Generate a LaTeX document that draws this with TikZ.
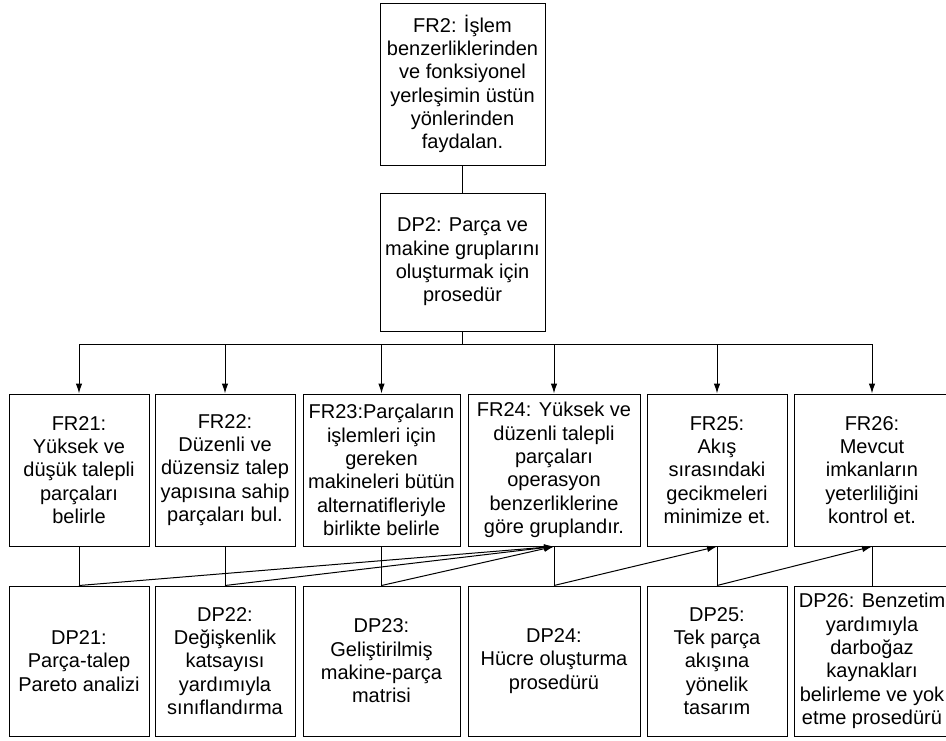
\documentclass[tikz,border=0pt]{standalone}
\usepackage{fontspec}
\setmainfont{Liberation Sans}
\usetikzlibrary{arrows.meta}

\begin{document}
\begin{tikzpicture}[x=1pt,y=-1pt,
	box/.style={draw,line width=1pt,align=center,inner sep=2pt,
		font=\fontsize{20}{23.3}\selectfont},
	frbox/.style={box,minimum width=#1,minimum height=152pt},
	dpbox/.style={box,minimum width=#1,minimum height=150pt},
	link/.style={line width=1pt},
	arrow/.style={line width=1pt,-{Latex[length=10pt,width=6.5pt]}},
]
\useasboundingbox (0,0) rectangle (946,740);

%Top level
\node [box,minimum width=165pt,minimum height=162pt] (FR2) at (462.5,84)
	{FR2: İşlem\\benzerliklerinden\\ve fonksiyonel\\yerleşimin üstün\\yönlerinden\\faydalan.};
\node [box,minimum width=165pt,minimum height=138pt] (DP2) at (462.5,262)
	{DP2: Parça ve\\makine gruplarını\\oluşturmak için\\prosedür};
\draw[link] (FR2.south) -- (DP2.north);

%FR row
\node [frbox=140pt] (FR21) at (79,470)
	{FR21:\\Yüksek ve\\düşük talepli\\parçaları\\belirle};
\node [frbox=140pt] (FR22) at (225,470)
	{FR22:\\Düzenli ve\\düzensiz talep\\yapısına sahip\\parçaları bul.};
\node [frbox=157pt] (FR23) at (381.5,470)
	{FR23:Parçaların\\işlemleri için\\gereken\\makineleri bütün\\alternatifleriyle\\birlikte belirle};
\node [frbox=172pt] (FR24) at (554,470)
	{FR24: Yüksek ve\\düzenli talepli\\parçaları\\operasyon\\benzerliklerine\\göre gruplandır.};
\node [frbox=140pt] (FR25) at (717,470)
	{FR25:\\Akış\\sırasındaki\\gecikmeleri\\minimize et.};
\node [frbox=156pt] (FR26) at (872,470)
	{FR26:\\Mevcut\\imkanların\\yeterliliğini\\kontrol et.};

%DP row
\node [dpbox=140pt] (DP21) at (79,661)
	{DP21:\\Parça-talep\\Pareto analizi};
\node [dpbox=140pt] (DP22) at (225,661)
	{DP22:\\Değişkenlik\\katsayısı\\yardımıyla\\sınıflandırma};
\node [dpbox=157pt] (DP23) at (381.5,661)
	{DP23:\\Geliştirilmiş\\makine-parça\\matrisi};
\node [dpbox=172pt] (DP24) at (554,661)
	{DP24:\\Hücre oluşturma\\prosedürü};
\node [dpbox=140pt] (DP25) at (717,661)
	{DP25:\\Tek parça\\akışına\\yönelik\\tasarım};
\node [dpbox=156pt] (DP26) at (872,661)
	{DP26: Benzetim\\yardımıyla\\darboğaz\\kaynakları\\belirleme ve yok\\etme prosedürü};

%Bus from DP2
\coordinate (bus) at (462.5,344);
\draw[link] (DP2.south) -- (bus);
\draw[link] (FR21.north |- bus) -- (FR26.north |- bus);
\foreach \n in {21,...,26}
	\draw[arrow] (FR\n.north |- bus) -- (FR\n.north);

%FR to DP
\foreach \n in {21,...,26}
	\draw[link] (FR\n.south) -- (DP\n.north);

%Couplings
\draw[arrow] (DP21.north) -- (FR24.south);
\draw[arrow] (DP22.north) -- (FR24.south);
\draw[arrow] (DP23.north) -- (FR24.south);
\draw[arrow] (DP24.north) -- (FR25.south);
\draw[arrow] (DP25.north) -- (FR26.south);

\end{tikzpicture}
\end{document}
